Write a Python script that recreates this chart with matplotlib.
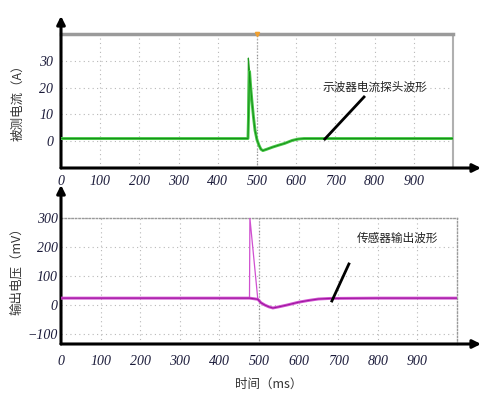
import matplotlib
matplotlib.use("Agg")
import matplotlib.pyplot as plt
import numpy as np

plt.rcParams["font.family"] = ["Noto Sans CJK SC", "DejaVu Sans"]

# scope traces (time in ms)
current_t = [0, 100, 200, 300, 400, 477, 478, 481, 484, 487, 491, 495, 500, 505,
             510, 515, 525, 540, 555, 571, 590, 605, 620, 700, 800, 900, 1000]
current_a = [1, 1, 1, 1, 1, 1, 31, 26, 20, 15, 9, 4, 0.5, -1.5,
             -3, -3.5, -3, -2.2, -1.5, -0.8, 0.3, 0.8, 1, 1, 1, 1, 1]

sensor_t = [0, 100, 200, 300, 400, 476, 477, 497, 505, 515, 525, 535, 550,
            570, 600, 625, 650, 680, 800, 900, 1000]
sensor_mv = [24, 24, 24, 24, 24, 24, 300, 20, 8, 0, -6, -10, -6,
             0, 10, 16, 21, 23, 24, 24, 24]

x_ticks = [0, 100, 200, 300, 400, 500, 600, 700, 800, 900]
top_yticks = [0, 10, 20, 30]
bot_yticks = [-100, 0, 100, 200, 300]
trigger_ms = 500

W, H = 487, 395
fig = plt.figure(figsize=(W / 100, H / 100), dpi=100)


def box(l, t, r, b):
    return [l / W, 1 - b / H, (r - l) / W, (b - t) / H]


tick_font = dict(family="Liberation Serif", style="italic", size=10, color="#1b1b3a")
grid_kw = dict(color="#b8b8b8", linestyle=(0, (1, 3)), linewidth=0.8)
arrow_kw = dict(arrowstyle="-|>", color="black", lw=2.2, mutation_scale=12,
                shrinkA=0, shrinkB=0)


def style_axes(ax, yticks, xpad, ypad, xtip, ytip):
    ax.set_xlim(0, 1000)
    ax.set_xticks(x_ticks)
    ax.set_yticks(yticks)
    ax.tick_params(length=0)
    ax.tick_params(axis="x", pad=xpad)
    ax.tick_params(axis="y", pad=ypad)
    for lab in ax.get_xticklabels() + ax.get_yticklabels():
        lab.set_fontfamily(tick_font["family"])
        lab.set_fontstyle(tick_font["style"])
        lab.set_fontsize(tick_font["size"])
        lab.set_color(tick_font["color"])
    ax.grid(True, **grid_kw)
    ax.axvline(trigger_ms, color="#909090", linestyle=(0, (1, 1.5)), lw=0.9, zorder=1)
    ax.spines["bottom"].set_visible(False)
    ax.spines["left"].set_visible(False)
    ax.annotate("", xy=(xtip, 0), xytext=(0, 0), xycoords="axes fraction",
                textcoords="axes fraction", arrowprops=arrow_kw, annotation_clip=False)
    ax.annotate("", xy=(0, ytip), xytext=(0, 0), xycoords="axes fraction",
                textcoords="axes fraction", arrowprops=arrow_kw, annotation_clip=False)


# top panel: current probe
ax1 = fig.add_axes(box(61, 34, 453, 168))
ax1.set_ylim(-10, 40)
style_axes(ax1, top_yticks, 5, 5.5, (481 - 61) / 392, (168 - 16) / 134)
ax1.spines["top"].set_color("#9a9a9a")
ax1.spines["top"].set_linewidth(2.5)
ax1.spines["right"].set_color("#b0b0b0")
ax1.spines["right"].set_linewidth(1.5)

ct = np.array(current_t)
ca = np.array(current_a)
ax1.plot(ct, ca, color="#1f9a1f", lw=0.9, zorder=3)
noisy = (ct <= 477) | (ct >= 481)
ax1.plot(ct[noisy], ca[noisy], color="#45c845", lw=2.1, zorder=3, solid_joinstyle="round")
ax1.plot(ct[noisy], ca[noisy], color="#17901a", lw=0.7, zorder=4)
ax1.plot(trigger_ms, 40, marker="v", color="#f0a030", ms=3, clip_on=False, zorder=5)

ax1.text(668, 20.2, "示波器电流探头波形", fontsize=8.4, color="#222222",
         ha="left", va="center")
ax1.plot([773, 673], [16.5, 0.8], color="black", lw=2, zorder=5)

# bottom panel: sensor output
ax2 = fig.add_axes(box(61, 218, 457, 344))
ax2.set_ylim(-134, 300)
style_axes(ax2, bot_yticks, 8, 2.5, (481 - 61) / 396, (344 - 185) / 126)
for side in ["top", "right"]:
    ax2.spines[side].set_color("#999999")
    ax2.spines[side].set_linestyle((0, (1, 1.5)))
    ax2.spines[side].set_linewidth(1)

st = np.array(sensor_t)
sv = np.array(sensor_mv)
ax2.plot(st, sv, color="#d050d0", lw=0.9, zorder=3)
noisy = (st <= 476) | (st >= 497)
ax2.plot(st[noisy], sv[noisy], color="#cf4fcf", lw=2.1, zorder=3, solid_joinstyle="round")
ax2.plot(st[noisy], sv[noisy], color="#9a129a", lw=0.7, zorder=4)

ax2.text(747, 231, "传感器输出波形", fontsize=8.4, color="#222222",
         ha="left", va="center")
ax2.plot([727, 684], [141.6, 14.1], color="black", lw=2, zorder=5)

# axis titles
fig.text(18 / W, 1 - 100 / H, "被测电流（A）", rotation=90, fontsize=9,
         color="#333333", ha="center", va="center")
fig.text(17 / W, 1 - 268 / H, "输出电压（mV）", rotation=90, fontsize=9,
         color="#333333", ha="center", va="center")
fig.text(269 / W, 1 - 384 / H, "时间（ms）", fontsize=9,
         color="#333333", ha="center", va="center")

fig.savefig("out.png", dpi=100)
